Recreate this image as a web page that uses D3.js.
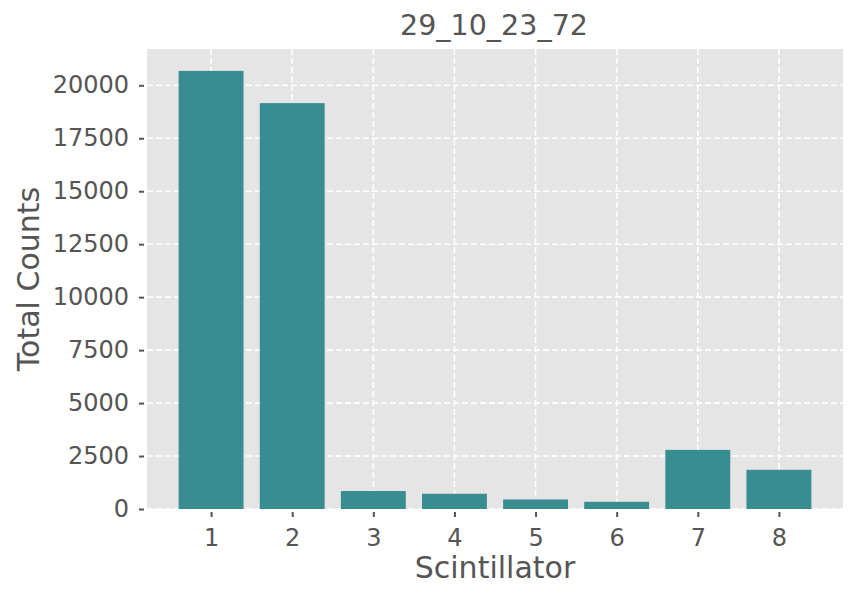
<!DOCTYPE html>
<meta charset="utf-8">
<script src="https://d3js.org/d3.v7.min.js"></script>
<style>
  body { margin: 0; background: #fff; }
  text { font-family: "DejaVu Sans", sans-serif; }
</style>
<div id="chart"></div>
<script>

// data
var scintillators = [1, 2, 3, 4, 5, 6, 7, 8];
var totalCounts = [20680, 19160, 850, 720, 450, 340, 2790, 1850];
var yTicks = [0, 2500, 5000, 7500, 10000, 12500, 15000, 17500, 20000];
var title = "29_10_23_72";

var W = 858, H = 601;
var margin = {top: 49, right: 15, bottom: 92, left: 147};
var width = W - margin.left - margin.right,
    height = H - margin.top - margin.bottom;

var svg = d3.select("#chart").append("svg")
    .attr("width", W)
    .attr("height", H);

var g = svg.append("g")
    .attr("transform", "translate(" + margin.left + "," + margin.top + ")");

// matplotlib-like limits: bars 0.8 wide, 5% margins
var x = d3.scaleLinear()
    .domain([0.6 - 0.39, 8.4 + 0.39])
    .range([0, width]);
var y = d3.scaleLinear()
    .domain([0, d3.max(totalCounts) * 1.05])
    .range([height, 0]);

g.append("rect")
  .attr("width", width)
  .attr("height", height)
  .attr("fill", "#e5e5e5");

// grid
g.selectAll(".hgrid")
  .data(yTicks)
  .enter().append("line")
    .attr("x1", 0).attr("x2", width)
    .attr("y1", function(d){ return y(d) }).attr("y2", function(d){ return y(d) })
    .attr("stroke", "#fff").attr("stroke-width", 1.6)
    .attr("stroke-dasharray", "6,3");
g.selectAll(".vgrid")
  .data(scintillators)
  .enter().append("line")
    .attr("y1", 0).attr("y2", height)
    .attr("x1", function(d){ return x(d) }).attr("x2", function(d){ return x(d) })
    .attr("stroke", "#fff").attr("stroke-width", 1.6)
    .attr("stroke-dasharray", "6,3");

// bars
g.selectAll(".bar")
  .data(scintillators)
  .enter().append("rect")
    .attr("x", function(d){ return x(d - 0.4) })
    .attr("width", function(d){ return x(d + 0.4) - x(d - 0.4) })
    .attr("y", function(d, i){ return y(totalCounts[i]) })
    .attr("height", function(d, i){ return y(0) - y(totalCounts[i]) })
    .attr("fill", "#388d91");

// axes
var xAxis = g.append("g")
    .attr("transform", "translate(0," + (height + 3) + ")")
    .call(d3.axisBottom(x).tickValues(scintillators).tickFormat(d3.format("d")).tickSize(5).tickPadding(12));
var yAxis = g.append("g")
    .attr("transform", "translate(-3,0)")
    .call(d3.axisLeft(y).tickValues(yTicks).tickFormat(d3.format("d")).tickSize(5).tickPadding(10));

[xAxis, yAxis].forEach(function(a){
  a.select(".domain").remove();
  a.selectAll("line").attr("stroke", "#555").attr("stroke-width", 2);
  a.selectAll("text")
    .attr("fill", "#555")
    .style("font-size", "24px");
});

// labels
svg.append("text")
  .attr("x", margin.left + width / 2 - 1)
  .attr("y", 35)
  .attr("text-anchor", "middle")
  .attr("fill", "#555")
  .style("font-size", "28.5px")
  .text(title);

svg.append("text")
  .attr("x", margin.left + width / 2)
  .attr("y", 578)
  .attr("text-anchor", "middle")
  .attr("fill", "#555")
  .style("font-size", "30px")
  .text("Scintillator");

svg.append("text")
  .attr("transform", "translate(39," + (margin.top + height / 2) + ") rotate(-90)")
  .attr("text-anchor", "middle")
  .attr("fill", "#555")
  .style("font-size", "30px")
  .text("Total Counts");

</script>
